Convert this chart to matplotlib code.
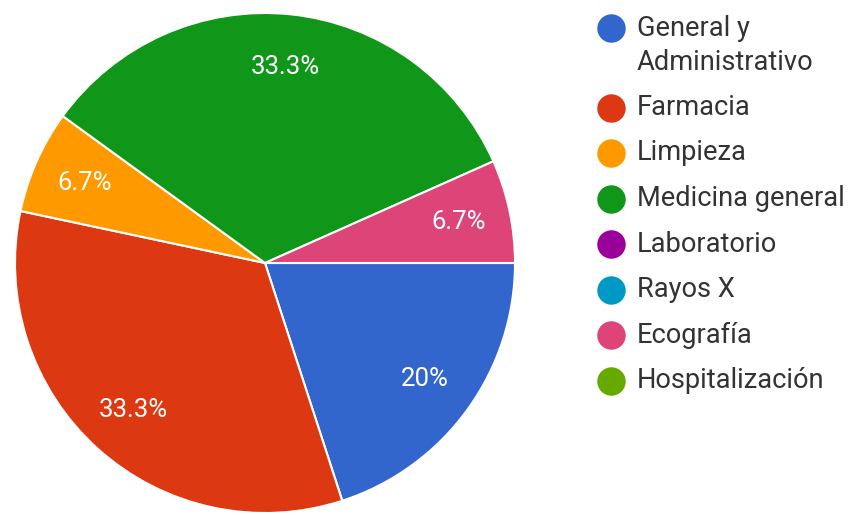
import matplotlib
matplotlib.use("Agg")
import matplotlib.pyplot as plt

plt.rcParams['font.family'] = ['Roboto', 'DejaVu Sans']

categories = ['General y\nAdministrativo', 'Farmacia', 'Limpieza', 'Medicina general',
              'Laboratorio', 'Rayos X', 'Ecografía', 'Hospitalización']
counts = [3, 5, 1, 5, 0, 0, 1, 0]
colors = ['#3366cc', '#dc3912', '#ff9900', '#109618',
          '#990099', '#0099c6', '#dd4477', '#66aa00']


def pct_label(pct):
    txt = f"{pct:.1f}"
    if txt.endswith('.0'):
        txt = txt[:-2]
    return txt + '%'


fig = plt.figure(figsize=(8.51, 5.15), dpi=100)

# pie on the left, only non-empty slices get a wedge
ax = fig.add_axes([10 / 851, -3 / 515, 510 / 851, 510 / 515])
vals = [c for c in counts if c > 0]
cols = [col for c, col in zip(counts, colors) if c > 0]
wedges, texts, autotexts = ax.pie(
    vals, colors=cols, startangle=0, counterclock=False,
    autopct=pct_label, pctdistance=0.79,
    wedgeprops=dict(edgecolor='white', linewidth=1.5),
    textprops=dict(color='white', fontsize=18.5))
ax.set_xlim(-1.02, 1.02)
ax.set_ylim(-1.02, 1.02)
ax.set_aspect('equal')

# legend drawn by hand so the wrapped first entry sits like a two-line row
lax = fig.add_axes([0, 0, 1, 1])
lax.set_xlim(0, 851)
lax.set_ylim(515, 0)
lax.axis('off')
y = 28
for label, col in zip(categories, colors):
    lax.scatter([611], [y], s=420, color=col, linewidths=0)
    lines = label.split('\n')
    for k, line in enumerate(lines):
        lax.text(637, y + 34 * k, line, fontsize=19.6, color='#333333', va='center')
    y += 34 * (len(lines) - 1) + 45.5

fig.savefig('out.png', dpi=100)
